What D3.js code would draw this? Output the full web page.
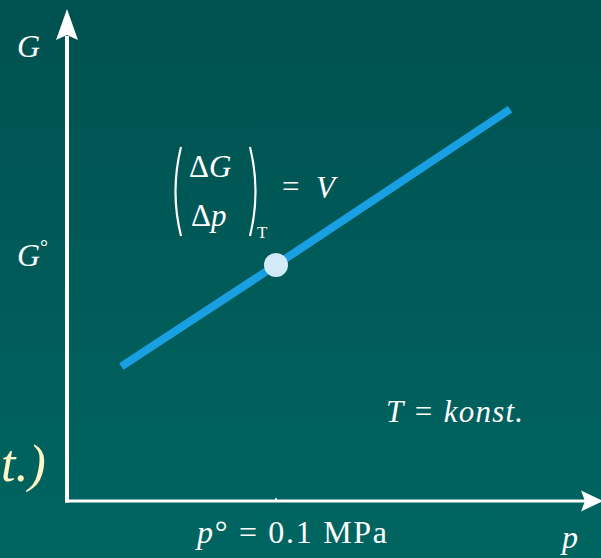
<!DOCTYPE html>
<html>
<head>
<meta charset="utf-8">
<script src="https://cdn.jsdelivr.net/npm/d3@7"></script>
<style>
  html, body { margin: 0; padding: 0; background: #005a57; }
  svg { display: block; }
  text { font-family: "Liberation Serif", "Times New Roman", serif; fill: #ffffff; }
</style>
</head>
<body>
<svg id="chart" width="601" height="558"></svg>
<script>
// Free enthalpy G against pressure p at constant temperature
const pressure = [0.026, 0.1, 0.212];   // MPa
const gibbs    = [0.57, 1.0, 1.66];     // in units of G°
const refPoint = { p: 0.1, G: 1.0 };    // standard state p° = 0.1 MPa, G°
const pTickLabel = "p° = 0.1 MPa";

const W = 601, H = 558;
const svg = d3.select("#chart");

// background gradient
const defs = svg.append("defs");
const grad = defs.append("linearGradient").attr("id", "bg")
  .attr("x1", 0).attr("y1", 0).attr("x2", 0).attr("y2", 1);
grad.append("stop").attr("offset", "0%").attr("stop-color", "#005150");
grad.append("stop").attr("offset", "100%").attr("stop-color", "#006561");
svg.append("rect").attr("width", W).attr("height", H).attr("fill", "url(#bg)");

// scales: origin at the axes crossing
const x = d3.scaleLinear().domain([0, 0.25]).range([67, 589.5]);
const y = d3.scaleLinear().domain([0, 2]).range([501, 29]);

// axes
const axisG = svg.append("g").attr("fill", "#ffffff").attr("stroke", "#ffffff");
axisG.append("line")
  .attr("x1", x(0)).attr("y1", y(0) + 1.5).attr("x2", x(0)).attr("y2", 36)
  .attr("stroke-width", 4);
axisG.append("path")
  .attr("stroke", "none")
  .attr("d", `M${x(0)},9 L${x(0) + 11},40 L${x(0)},35 L${x(0) - 11},40 Z`);
axisG.append("line")
  .attr("x1", x(0) - 2).attr("y1", y(0)).attr("x2", 586).attr("y2", y(0))
  .attr("stroke-width", 3);
axisG.append("path")
  .attr("stroke", "none")
  .attr("d", `M603,${y(0)} L581,${y(0) - 10.5} L585,${y(0)} L581,${y(0) + 10.5} Z`);
// tick at p°
axisG.append("line")
  .attr("x1", x(refPoint.p)).attr("x2", x(refPoint.p))
  .attr("y1", y(0) - 3).attr("y2", y(0))
  .attr("stroke-width", 1.5);

// G(p) line
const line = d3.line().x((d, i) => x(pressure[i])).y(d => y(d));
svg.append("path")
  .datum(gibbs)
  .attr("d", line)
  .attr("fill", "none")
  .attr("stroke", "#18a0e2")
  .attr("stroke-width", 8);

// standard state point
svg.append("circle")
  .attr("cx", x(refPoint.p)).attr("cy", y(refPoint.G))
  .attr("r", 12)
  .attr("fill", "#d2e9f6");

// axis labels
svg.append("text").attr("x", 17).attr("y", 57)
  .attr("font-size", 32).attr("font-style", "italic").text("G");
const g0 = svg.append("text").attr("x", 17).attr("y", y(refPoint.G) + 1)
  .attr("font-size", 32);
g0.append("tspan").attr("font-style", "italic").text("G");
g0.append("tspan").attr("font-size", 20).attr("dy", -12).text("°");

svg.append("text").attr("x", 562).attr("y", 548)
  .attr("font-size", 32).attr("font-style", "italic").text("p");

const pt = svg.append("text").attr("x", 197).attr("y", 543)
  .attr("font-size", 32)
  .attr("textLength", 190).attr("lengthAdjust", "spacing");
pt.append("tspan").attr("font-style", "italic").text(pTickLabel.slice(0, 1));
pt.append("tspan").text(pTickLabel.slice(1));

// slope formula (ΔG/Δp)_T = V
const fx = svg.append("g");
fx.append("path")
  .attr("d", "M181,147 Q170,191.5 181,236")
  .attr("fill", "none").attr("stroke", "#ffffff").attr("stroke-width", 2.2);
fx.append("path")
  .attr("d", "M250,147 Q261,191.5 250,236")
  .attr("fill", "none").attr("stroke", "#ffffff").attr("stroke-width", 2.2);
const num = fx.append("text").attr("x", 189).attr("y", 177).attr("font-size", 31);
num.append("tspan").text("Δ");
num.append("tspan").attr("font-style", "italic").text("G");
const den = fx.append("text").attr("x", 191).attr("y", 226).attr("font-size", 31);
den.append("tspan").text("Δ");
den.append("tspan").attr("font-style", "italic").text("p");
fx.append("text").attr("x", 257).attr("y", 238)
  .attr("font-size", 17).text("T");
fx.append("text").attr("x", 282).attr("y", 197).attr("font-size", 31).text("=");
fx.append("text").attr("x", 316).attr("y", 198)
  .attr("font-size", 31).attr("font-style", "italic").text("V");

// temperature condition
const tc = svg.append("text").attr("x", 386).attr("y", 422)
  .attr("font-size", 31).attr("font-style", "italic")
  .attr("textLength", 137).attr("lengthAdjust", "spacing");
tc.text("T = konst.");

// tail of the heading text on the left
svg.append("text").attr("x", 1).attr("y", 481)
  .attr("font-size", 52).attr("font-style", "italic")
  .style("fill", "#fff6c6")
  .text("t.)");
</script>
</body>
</html>
